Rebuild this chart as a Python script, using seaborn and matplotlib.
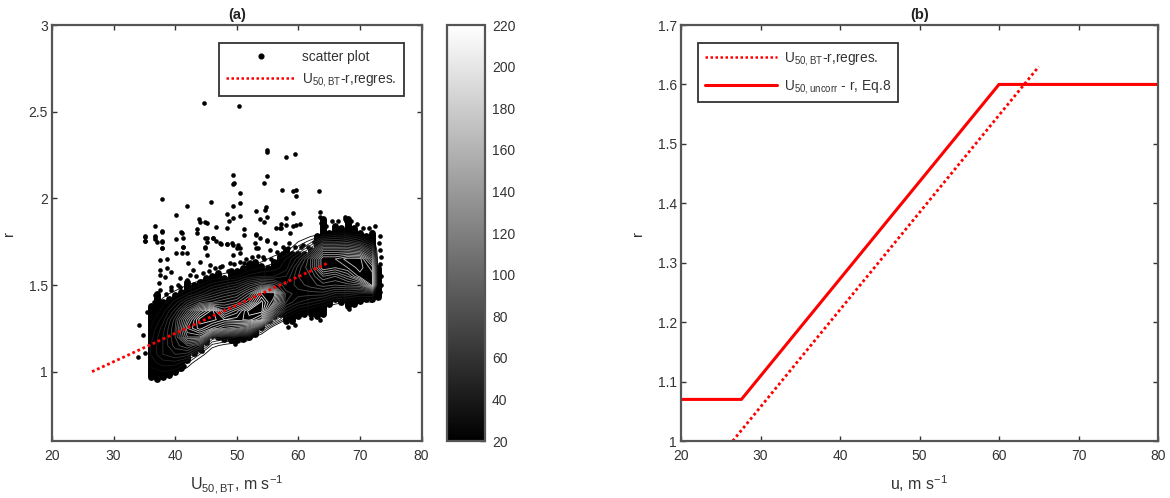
import numpy as np
import pandas as pd
import matplotlib
matplotlib.use("Agg")
import matplotlib.pyplot as plt
import seaborn as sns
from matplotlib.cm import ScalarMappable
from matplotlib.colors import Normalize
from matplotlib.lines import Line2D

# scattered points
u_pts = [44.7, 50.3, 54.85, 54.95, 58.0, 59.45, 49.4, 54.85, 54.5, 49.4, 49.6, 50.5, 57.3, 59.2, 59.6, 59.6, 63.3,
         37.8, 41.9, 45.75, 40.1, 49.4, 50.5, 54.7, 54.6, 53.2, 48.4, 50.5, 49.4, 48.8, 54.85, 53.8, 54.5, 59.2,
         58.0, 60.3, 59.2, 58.0, 57.2, 56.3, 57.2, 36.8, 37.8, 43.9, 44.0, 44.8, 45.2, 46.6, 48.4, 43.5, 43.5,
         51.1, 51.1, 41.0, 41.3, 40.1, 35.1, 35.1, 36.8, 36.8, 37.8, 44.8, 45.2, 45.2, 46.2, 46.6, 47.4, 48.4,
         49.4, 50.2, 50.5, 53.2, 53.8, 54.85, 53.0, 53.1, 41.3, 37.8, 44.8, 35.15, 35.15, 36.8, 37.0, 37.8, 37.8,
         37.8, 40.1, 41.1, 41.3, 41.1, 41.9, 37.5, 38.6, 37.5, 38.6, 37.6, 38.3, 39.4, 37.3, 40.8, 41.9, 42.9,
         42.1, 44.0, 45.65, 45.1, 44.8, 46.2, 47.3, 49.2, 50.0, 48.4, 50.5, 53.2, 54.85, 53.5, 54.3, 52.1, 48.9,
         47.3, 49.4, 51.1, 57.3, 58.4, 59.7, 57.0, 58.6, 60.8, 61.9, 55.4, 56.2, 34.2, 34.8, 34.0, 35.1, 35.5,
         36.7, 37.3, 37.5, 39.4, 40.8, 41.9, 49.7, 63.5, 63.5, 63.6, 67.6, 67.8, 72.0, 72.2, 73.0, 73.1]
r_pts = [2.55, 2.53, 2.279, 2.265, 2.24, 2.257, 2.134, 2.13, 2.09, 2.08, 2.086, 2.03, 2.05, 2.04, 2.05, 2.015, 2.044,
         1.996, 1.954, 1.979, 1.906, 1.957, 1.975, 1.948, 1.932, 1.929, 1.909, 1.896, 1.884, 1.871, 1.894, 1.882, 1.865, 1.915,
         1.886, 1.85, 1.842, 1.846, 1.85, 1.829, 1.827, 1.84, 1.807, 1.88, 1.861, 1.865, 1.856, 1.836, 1.83, 1.825, 1.802,
         1.821, 1.786, 1.804, 1.773, 1.765, 1.78, 1.756, 1.782, 1.767, 1.748, 1.769, 1.769, 1.75, 1.769, 1.756, 1.738, 1.736,
         1.73, 1.73, 1.711, 1.792, 1.773, 1.756, 1.744, 1.711, 1.721, 1.713, 1.717, 1.779, 1.756, 1.779, 1.75, 1.813, 1.756,
         1.711, 1.683, 1.802, 1.721, 1.683, 1.687, 1.644, 1.648, 1.587, 1.596, 1.558, 1.548, 1.577, 1.51, 1.538, 1.529, 1.587,
         1.625, 1.635, 1.615, 1.673, 1.711, 1.769, 1.74, 1.74, 1.711, 1.737, 1.683, 1.788, 1.76, 1.711, 1.663, 1.635, 1.625,
         1.606, 1.673, 1.625, 1.683, 1.711, 1.846, 1.827, 1.798, 1.731, 1.702, 1.702, 1.74, 1.269, 1.212, 1.087, 1.106, 1.346,
         1.442, 1.404, 1.471, 1.49, 1.49, 1.51, 1.173, 1.92, 1.89, 1.86, 1.894, 1.87, 1.807, 1.78, 1.56, 1.45]

# points on the rough rim of the cloud
u_rim = [36.5, 38.5, 39.3, 40.4, 42.4, 43.4, 44.5, 45.5, 46.5, 47.6, 48.6, 49.5, 50.6, 51.5, 52.5, 53.5, 54.4, 55.5,
         56.5, 57.5, 58.5, 59.5, 60.5, 61.5, 62.5, 64.5, 65.5, 66.5, 67.5, 68.5, 69.5, 70.5, 71.5, 72.5, 73.2, 73.3,
         58.4, 59.4, 63.5, 68.2, 62.0, 49.7, 44.4, 41.4, 55.4, 73.4, 73.3, 73.5, 73.2, 73.1, 73.4]
r_rim = [1.40, 1.45, 1.47, 1.50, 1.56, 1.55, 1.57, 1.58, 1.60, 1.61, 1.58, 1.62, 1.63, 1.65, 1.66, 1.67, 1.65, 1.65,
         1.69, 1.72, 1.74, 1.72, 1.72, 1.72, 1.75, 1.84, 1.87, 1.87, 1.88, 1.87, 1.85, 1.83, 1.83, 1.84, 1.70, 1.62,
         1.26, 1.27, 1.30, 1.36, 1.31, 1.16, 1.12, 1.03, 1.29, 1.50, 1.46, 1.55, 1.78, 1.74, 1.66]

# solid part of the cloud, low and high edge per wind speed
u_band = list(range(36, 74))
r_low = [.97, .96, .97, .98, 1.00, 1.02, 1.07, 1.11, 1.13, 1.17, 1.21, 1.20, 1.19, 1.18, 1.18, 1.19, 1.20, 1.22, 1.26,
         1.30, 1.32, 1.33, 1.29, 1.29, 1.32, 1.33, 1.33, 1.32, 1.33, 1.39, 1.42, 1.40, 1.38, 1.39, 1.41, 1.42, 1.42, 1.43]
r_high = [1.38, 1.45, 1.40, 1.42, 1.44, 1.46, 1.52, 1.50, 1.52, 1.54, 1.55, 1.57, 1.54, 1.58, 1.58, 1.60, 1.62, 1.63, 1.61,
          1.60, 1.63, 1.67, 1.70, 1.68, 1.68, 1.68, 1.70, 1.78, 1.88, 1.80, 1.84, 1.83, 1.88, 1.83, 1.80, 1.78, 1.80, 1.60]

# density estimate behind the contours
u_grid = [36, 38, 40, 42, 44, 46, 48, 50, 52, 54, 56, 58, 60, 62, 64, 66, 68, 70, 72, 73]
r_grid = [1.0, 1.05, 1.1, 1.15, 1.2, 1.25, 1.3, 1.35, 1.4, 1.45, 1.5, 1.55, 1.6, 1.65, 1.7, 1.75, 1.8, 1.85]
density = [
    [25, 30, 25, 10, 0, 0, 0, 0, 0, 0, 0, 0, 0, 0, 0, 0, 0, 0, 0, 0],
    [35, 45, 45, 30, 5, 0, 0, 0, 0, 0, 0, 0, 0, 0, 0, 0, 0, 0, 0, 0],
    [40, 60, 70, 65, 30, 5, 0, 0, 0, 0, 0, 0, 0, 0, 0, 0, 0, 0, 0, 0],
    [40, 60, 85, 100, 75, 25, 15, 10, 5, 0, 0, 0, 0, 0, 0, 0, 0, 0, 0, 0],
    [35, 60, 90, 150, 150, 60, 50, 40, 30, 5, 0, 0, 0, 0, 0, 0, 0, 0, 0, 0],
    [30, 55, 90, 170, 195, 170, 150, 140, 120, 50, 5, 0, 0, 0, 0, 0, 0, 0, 0, 0],
    [25, 45, 85, 150, 205, 205, 190, 195, 205, 180, 60, 20, 10, 0, 0, 0, 0, 0, 0, 0],
    [15, 35, 65, 115, 170, 205, 150, 175, 215, 215, 120, 50, 30, 20, 10, 0, 0, 0, 0, 0],
    [10, 25, 45, 75, 100, 110, 120, 130, 160, 215, 170, 80, 60, 50, 40, 25, 20, 15, 20, 0],
    [5, 15, 25, 40, 55, 75, 90, 100, 130, 190, 190, 85, 75, 75, 75, 60, 60, 50, 50, 0],
    [0, 5, 10, 20, 30, 45, 55, 65, 90, 110, 100, 70, 85, 95, 105, 100, 105, 110, 175, 0],
    [0, 0, 5, 5, 10, 20, 25, 30, 45, 50, 50, 60, 90, 100, 130, 120, 140, 175, 175, 0],
    [0, 0, 0, 0, 5, 5, 10, 15, 20, 30, 35, 45, 85, 110, 170, 160, 170, 185, 165, 0],
    [0, 0, 0, 0, 0, 0, 5, 5, 10, 15, 25, 40, 65, 110, 170, 170, 185, 185, 130, 0],
    [0, 0, 0, 0, 0, 0, 0, 0, 5, 5, 10, 15, 40, 70, 130, 130, 130, 120, 80, 0],
    [0, 0, 0, 0, 0, 0, 0, 0, 0, 0, 5, 5, 20, 35, 70, 70, 75, 60, 35, 0],
    [0, 0, 0, 0, 0, 0, 0, 0, 0, 0, 0, 0, 5, 10, 15, 30, 30, 20, 10, 0],
    [0, 0, 0, 0, 0, 0, 0, 0, 0, 0, 0, 0, 0, 0, 0, 0, 0, 0, 0, 0],
]

# regression line and Eq.8
u_reg = [26.5, 65]
r_reg = [1.0, 1.63]
u_eq8 = [20, 27.6, 60, 80]
r_eq8 = [1.07, 1.07, 1.6, 1.6]

x_ticks = [20, 30, 40, 50, 60, 70, 80]
ya_ticks = [1, 1.5, 2, 2.5, 3]
ya_labels = ["1", "1.5", "2", "2.5", "3"]
yb_ticks = [1, 1.1, 1.2, 1.3, 1.4, 1.5, 1.6, 1.7]
yb_labels = ["1", "1.1", "1.2", "1.3", "1.4", "1.5", "1.6", "1.7"]
cb_ticks = list(range(20, 221, 20))

sns.set_style("white")
plt.rcParams["font.family"] = ["Liberation Sans", "DejaVu Sans"]
plt.rcParams["mathtext.default"] = "regular"
plt.rcParams["text.color"] = "#333333"
plt.rcParams["axes.labelcolor"] = "#333333"
plt.rcParams["xtick.labelcolor"] = "#333333"
plt.rcParams["ytick.labelcolor"] = "#333333"

W, H = 1170, 498
frame = "#555555"
dots = (0, (1, 1))


def box(x0, y0, x1, y1):
    return [x0 / W, 1 - y1 / H, (x1 - x0) / W, (y1 - y0) / H]


def style(ax, xt, yt, yl):
    ax.set_xticks(xt)
    ax.set_yticks(yt)
    ax.set_yticklabels(yl)
    ax.tick_params(direction="in", length=3.5, width=1, color="#333333", labelsize=10,
                   top=True, right=True, bottom=True, left=True, pad=3)
    ax.tick_params(axis="x", pad=6)
    for s in ax.spines.values():
        s.set_visible(True)
        s.set_color(frame)
        s.set_linewidth(1.6)


fig = plt.figure(figsize=(W / 100, H / 100), dpi=100)
ax1 = fig.add_axes(box(52, 25, 421.5, 441))
cax = fig.add_axes(box(447, 25, 485, 441))
ax2 = fig.add_axes(box(681, 25, 1158, 441))

# panel (a)
ax1.vlines(u_band, r_low, r_high, color="black", linewidth=5, capstyle="round", zorder=1)
pts = pd.DataFrame({"u": u_pts + u_rim, "r": r_pts + r_rim})
sns.scatterplot(data=pts, x="u", y="r", color="black", s=11, linewidth=0, ax=ax1, zorder=2, legend=False)
ax1.contour(u_grid, r_grid, np.array(density), levels=list(range(20, 221, 10)), cmap="gray",
            vmin=20, vmax=220, linewidths=0.6, zorder=3)
sns.lineplot(x=u_reg, y=r_reg, color="red", linestyle=dots, linewidth=2.0, ax=ax1, zorder=4)
ax1.set_xlim(20, 80)
ax1.set_ylim(0.6, 3)
style(ax1, x_ticks, ya_ticks, ya_labels)
ax1.set_title("(a)", fontsize=10.5, fontweight="bold", color="#222222", pad=4)
ax1.set_xlabel(r"U$_{50,BT}$, m s$^{-1}$", fontsize=11.5, labelpad=7)
ax1.set_ylabel("r", fontsize=11)
ax1.yaxis.set_label_coords(-0.097, 0.5)

h1 = [Line2D([], [], color="black", marker="o", markersize=3.4, linestyle="none"),
      Line2D([], [], color="red", linestyle=dots, linewidth=1.8)]
leg1 = ax1.legend(h1, ["scatter plot", r"U$_{50,BT}$-r,regres."], loc="upper left",
                  bbox_to_anchor=(219 / W, 1 - 43 / H), bbox_transform=fig.transFigure, borderaxespad=0,
                  fontsize=9.9, fancybox=False, framealpha=1, edgecolor="#333333", handlelength=5.05,
                  handletextpad=0.5, borderpad=0.5, labelspacing=0.5)
leg1.get_frame().set_linewidth(1.3)

# colorbar
cb = fig.colorbar(ScalarMappable(Normalize(20, 220), "gray"), cax=cax)
cb.set_ticks(cb_ticks)
cb.ax.tick_params(direction="in", length=3.5, width=1, color="#333333", labelsize=10, pad=5)
cb.outline.set_edgecolor(frame)
cb.outline.set_linewidth(1.6)

# panel (b)
sns.lineplot(x=u_reg, y=r_reg, color="red", linestyle=dots, linewidth=2.0, ax=ax2)
sns.lineplot(x=u_eq8, y=r_eq8, color="red", linewidth=2.2, ax=ax2, sort=False)
ax2.set_xlim(20, 80)
ax2.set_ylim(1, 1.7)
style(ax2, x_ticks, yb_ticks, yb_labels)
ax2.set_title("(b)", fontsize=10.5, fontweight="bold", color="#222222", pad=4)
ax2.set_xlabel(r"u, m s$^{-1}$", fontsize=11.5, labelpad=7)
ax2.set_ylabel("r", fontsize=11)
ax2.yaxis.set_label_coords(-0.075, 0.5)

h2 = [Line2D([], [], color="red", linestyle=dots, linewidth=1.8),
      Line2D([], [], color="red", linewidth=2.2)]
leg2 = ax2.legend(h2, [r"U$_{50,BT}$-r,regres.", r"U$_{50,uncorr}$ - r, Eq.8"], loc="upper left",
                  bbox_to_anchor=(698 / W, 1 - 43 / H), bbox_transform=fig.transFigure, borderaxespad=0,
                  fontsize=9.9, fancybox=False, framealpha=1, edgecolor="#333333", handlelength=5.25,
                  handletextpad=0.5, borderpad=0.5, labelspacing=0.7)
leg2.get_frame().set_linewidth(1.3)

fig.savefig("out.png", dpi=100)
